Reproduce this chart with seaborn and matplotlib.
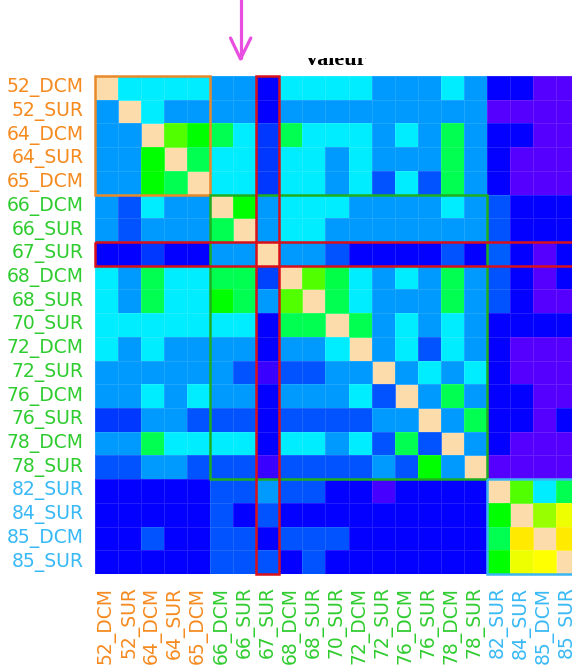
import numpy as np
import pandas as pd
import matplotlib
matplotlib.use("Agg")
import matplotlib.pyplot as plt
import seaborn as sns
from matplotlib.patches import Rectangle
from matplotlib.lines import Line2D

# Samples (station_depth) and their groups
samples = ["52_DCM", "52_SUR", "64_DCM", "64_SUR", "65_DCM",
           "66_DCM", "66_SUR", "67_SUR", "68_DCM", "68_SUR", "70_SUR",
           "72_DCM", "72_SUR", "76_DCM", "76_SUR", "78_DCM", "78_SUR",
           "82_SUR", "84_SUR", "85_DCM", "85_SUR"]
group_sizes = [5, 12, 4]
group_colors = ["#f58a1f", "#2fcc2f", "#38b9f5"]
box_colors = ["#e8892a", "#1fae1f", "#3bb5f2"]
highlight = "67_SUR"

# Pairwise similarity values (rows x columns)
values = [
    [1.00, 0.40, 0.40, 0.40, 0.40, 0.34, 0.34, 0.23, 0.40, 0.40, 0.40, 0.40, 0.34, 0.34, 0.34, 0.40, 0.34, 0.23, 0.23, 0.17, 0.17],
    [0.34, 1.00, 0.40, 0.34, 0.34, 0.34, 0.34, 0.23, 0.34, 0.34, 0.34, 0.34, 0.34, 0.34, 0.34, 0.34, 0.34, 0.17, 0.17, 0.17, 0.17],
    [0.34, 0.34, 1.00, 0.66, 0.60, 0.54, 0.40, 0.27, 0.54, 0.40, 0.40, 0.40, 0.34, 0.40, 0.34, 0.54, 0.34, 0.23, 0.23, 0.17, 0.17],
    [0.34, 0.34, 0.60, 1.00, 0.54, 0.40, 0.40, 0.27, 0.40, 0.40, 0.34, 0.40, 0.34, 0.34, 0.34, 0.54, 0.34, 0.23, 0.17, 0.17, 0.17],
    [0.34, 0.34, 0.60, 0.54, 1.00, 0.40, 0.40, 0.27, 0.40, 0.40, 0.34, 0.40, 0.29, 0.40, 0.29, 0.54, 0.34, 0.23, 0.17, 0.17, 0.17],
    [0.34, 0.29, 0.40, 0.34, 0.34, 1.00, 0.60, 0.34, 0.40, 0.40, 0.40, 0.34, 0.34, 0.34, 0.34, 0.40, 0.34, 0.29, 0.23, 0.23, 0.23],
    [0.34, 0.29, 0.34, 0.34, 0.34, 0.54, 1.00, 0.34, 0.40, 0.40, 0.34, 0.34, 0.34, 0.34, 0.34, 0.34, 0.34, 0.29, 0.23, 0.23, 0.23],
    [0.23, 0.23, 0.27, 0.23, 0.23, 0.34, 0.34, 1.00, 0.34, 0.34, 0.29, 0.23, 0.23, 0.23, 0.23, 0.29, 0.23, 0.30, 0.23, 0.17, 0.23],
    [0.40, 0.34, 0.54, 0.40, 0.40, 0.54, 0.54, 0.28, 1.00, 0.66, 0.55, 0.40, 0.34, 0.40, 0.34, 0.54, 0.34, 0.29, 0.23, 0.17, 0.23],
    [0.40, 0.34, 0.54, 0.40, 0.40, 0.60, 0.54, 0.34, 0.66, 1.00, 0.54, 0.40, 0.34, 0.34, 0.34, 0.54, 0.34, 0.29, 0.23, 0.17, 0.17],
    [0.40, 0.40, 0.40, 0.40, 0.40, 0.40, 0.40, 0.23, 0.54, 0.54, 1.00, 0.54, 0.34, 0.40, 0.34, 0.40, 0.34, 0.23, 0.23, 0.23, 0.23],
    [0.40, 0.34, 0.40, 0.34, 0.34, 0.34, 0.34, 0.23, 0.34, 0.34, 0.40, 1.00, 0.34, 0.40, 0.29, 0.40, 0.34, 0.23, 0.17, 0.17, 0.17],
    [0.34, 0.34, 0.34, 0.34, 0.34, 0.34, 0.29, 0.19, 0.29, 0.29, 0.34, 0.34, 1.00, 0.34, 0.40, 0.34, 0.40, 0.23, 0.17, 0.17, 0.17],
    [0.34, 0.34, 0.40, 0.34, 0.40, 0.34, 0.34, 0.23, 0.34, 0.34, 0.34, 0.40, 0.29, 1.00, 0.34, 0.54, 0.34, 0.23, 0.23, 0.17, 0.17],
    [0.27, 0.27, 0.34, 0.34, 0.29, 0.29, 0.29, 0.23, 0.29, 0.29, 0.29, 0.29, 0.34, 0.34, 1.00, 0.34, 0.54, 0.23, 0.23, 0.17, 0.23],
    [0.34, 0.34, 0.54, 0.40, 0.40, 0.40, 0.40, 0.23, 0.40, 0.40, 0.34, 0.40, 0.29, 0.54, 0.29, 1.00, 0.34, 0.23, 0.17, 0.17, 0.17],
    [0.29, 0.29, 0.34, 0.34, 0.29, 0.29, 0.29, 0.19, 0.29, 0.29, 0.29, 0.29, 0.34, 0.29, 0.60, 0.34, 1.00, 0.17, 0.17, 0.17, 0.17],
    [0.23, 0.23, 0.23, 0.23, 0.23, 0.29, 0.29, 0.34, 0.29, 0.29, 0.23, 0.23, 0.18, 0.23, 0.23, 0.23, 0.23, 1.00, 0.66, 0.40, 0.54],
    [0.23, 0.23, 0.23, 0.23, 0.23, 0.29, 0.23, 0.29, 0.23, 0.23, 0.23, 0.23, 0.23, 0.23, 0.23, 0.23, 0.23, 0.60, 1.00, 0.71, 0.77],
    [0.23, 0.23, 0.29, 0.23, 0.23, 0.29, 0.29, 0.23, 0.29, 0.29, 0.29, 0.23, 0.23, 0.23, 0.23, 0.23, 0.23, 0.54, 0.80, 1.00, 0.80],
    [0.23, 0.23, 0.23, 0.23, 0.23, 0.29, 0.29, 0.29, 0.23, 0.29, 0.23, 0.23, 0.23, 0.23, 0.23, 0.23, 0.23, 0.60, 0.77, 0.785, 1.00],
]

df = pd.DataFrame(values, index=samples, columns=samples)
n = len(samples)
diag_mask = np.eye(n, dtype=bool)

W, H = 572, 665
fig = plt.figure(figsize=(W / 100, H / 100), dpi=100)
fig.patch.set_facecolor("white")
ax = fig.add_axes([95 / W, 1 - 574 / H, 484 / W, 498 / H])
ax.set_facecolor("#fddcac")  # self-comparison cells

sns.heatmap(df, ax=ax, cmap="gist_rainbow_r", vmin=0, vmax=1, mask=diag_mask,
            cbar=False, linewidths=0.5, linecolor=(1, 1, 1, 0.12),
            xticklabels=True, yticklabels=True)

# label colours by group
label_colors = []
for size, col in zip(group_sizes, group_colors):
    label_colors += [col] * size
ax.set_xticklabels(samples, rotation=90, fontsize=13.5)
ax.set_yticklabels(samples, rotation=0, fontsize=13.5)
for lab, col in zip(ax.get_xticklabels(), label_colors):
    lab.set_color(col)
for lab, col in zip(ax.get_yticklabels(), label_colors):
    lab.set_color(col)
ax.tick_params(axis="both", length=0)
ax.tick_params(axis="y", pad=8)
ax.tick_params(axis="x", pad=9)
ax.set_xlabel("")
ax.set_ylabel("")

# group boxes along the diagonal
start = 0
for size, col in zip(group_sizes, box_colors):
    ax.add_patch(Rectangle((start, start), size, size, fill=False,
                           edgecolor=col, lw=1.8, clip_on=False, zorder=3))
    start += size

# highlighted sample: full row and column
k = samples.index(highlight)
ax.add_patch(Rectangle((0, k), n, 1, fill=False, edgecolor="#d8101a",
                       lw=1.8, clip_on=False, zorder=4))
ax.add_patch(Rectangle((k, 0), 1, n, fill=False, edgecolor="#d8101a",
                       lw=1.8, clip_on=False, zorder=4))

# colour-scale title
fig.text(335 / W, 1 - 65 / H, "Valeur", ha="center", va="baseline",
         fontsize=16, fontweight="bold", family="Liberation Serif",
         color="black", zorder=3)
fig.patches.append(Rectangle((0, 1 - 58 / H), 1, 58 / H, transform=fig.transFigure,
                             facecolor="white", edgecolor="none", zorder=4))

# pointer to the highlighted column
arrow_col = "#e84ee0"
def fig_line(xs, ys):
    fig.add_artist(Line2D([x / W for x in xs], [1 - y / H for y in ys],
                          transform=fig.transFigure, color=arrow_col, lw=2.3,
                          solid_capstyle="round", solid_joinstyle="round", zorder=5))
fig_line([240.5, 240.5], [0, 58])
fig_line([230.5, 240.5, 250.8], [38, 59, 38])

fig.savefig("out.png", dpi=100)
